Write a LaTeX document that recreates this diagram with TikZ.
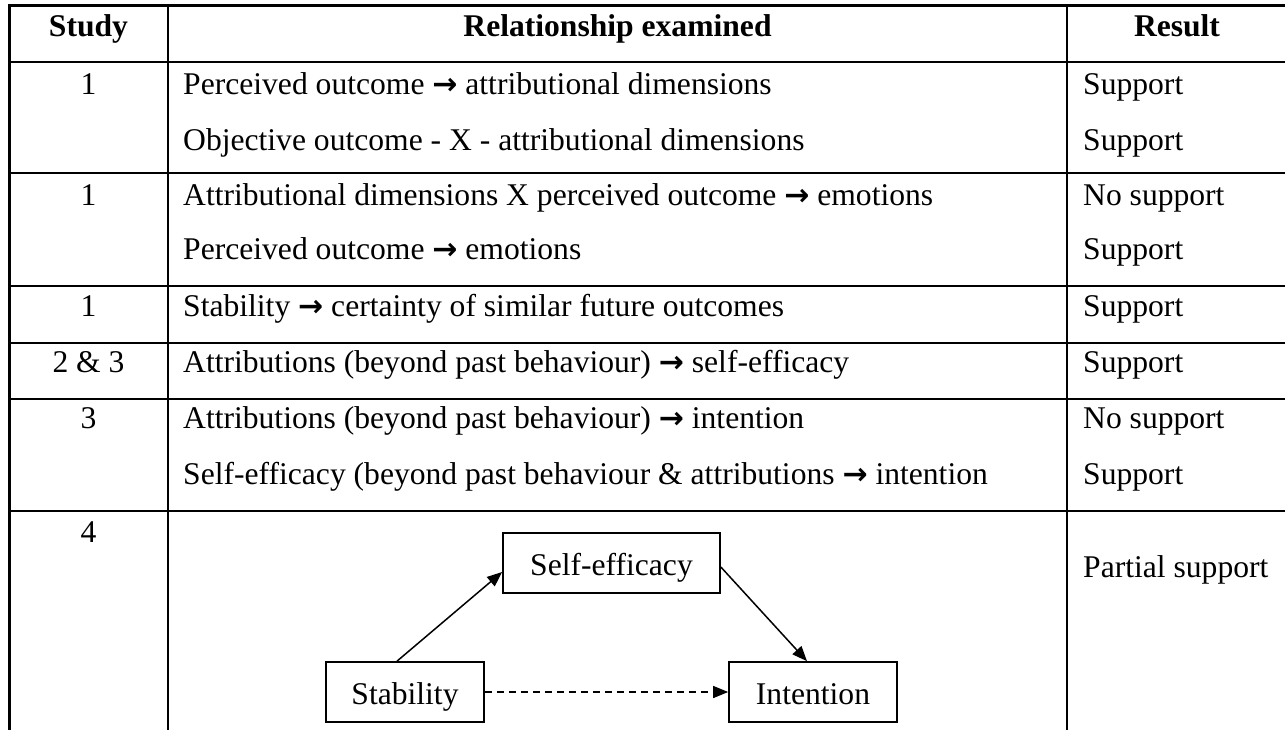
\documentclass[tikz,border=0pt]{standalone}
\usepackage{fontspec}
\setmainfont{Liberation Serif}
\newfontfamily\arrowfont{DejaVu Sans}
\usetikzlibrary{arrows.meta}
\newcommand{\rarr}{{\arrowfont\bfseries\fontsize{30}{32}\selectfont →}}
\begin{document}
\begin{tikzpicture}[x=1pt, y=-1pt,
  font=\fontsize{31.6}{37}\selectfont,
  txt/.style={inner sep=0pt, anchor=base west},
  ctr/.style={inner sep=0pt, anchor=base},
  hdr/.style={inner sep=0pt, anchor=base, font=\fontsize{31.6}{37}\selectfont\bfseries},
  tline/.style={line width=2.6pt},
  box/.style={draw, line width=1.7pt, inner sep=0pt, minimum height=60pt, text height=31pt, text depth=7pt},
  arr/.style={line width=1.5pt, -{Triangle[length=15pt, width=12pt]}},
  darr/.style={arr, dash pattern=on 7pt off 5pt}
]
\useasboundingbox (0,0) rectangle (1285,729);
% table rules
\foreach \yy in {5.7,62,173,286,343,399,511}
  \draw[tline] (9.5,\yy) -- (1290,\yy);
\foreach \xx in {9.5,168,1067}
  \draw[tline] (\xx,4.4) -- (\xx,735);
% header
\node[hdr] (hstudy) at (88.5,36) {Study};
\node[hdr] (hrel) at (617.5,36) {Relationship examined};
\node[hdr] (hres) at (1177,36) {Result};
% row 1
\node[ctr] (s1) at (88.5,94) {1};
\node[txt] (r1a) at (183,94) {Perceived outcome \rarr\ attributional dimensions};
\node[txt] (r1b) at (183,150) {Objective outcome - X - attributional dimensions};
\node[txt] (q1a) at (1083,94) {Support};
\node[txt] (q1b) at (1083,150) {Support};
% row 2
\node[ctr] (s2) at (88.5,205) {1};
\node[txt] (r2a) at (183,205) {Attributional dimensions X perceived outcome \rarr\ emotions};
\node[txt] (r2b) at (183,259) {Perceived outcome \rarr\ emotions};
\node[txt] (q2a) at (1083,205) {No support};
\node[txt] (q2b) at (1083,259) {Support};
% row 3
\node[ctr] (s3) at (88.5,316) {1};
\node[txt] (r3) at (183,316) {Stability \rarr\ certainty of similar future outcomes};
\node[txt] (q3) at (1083,316) {Support};
% row 4
\node[ctr] (s4) at (88.5,372) {2 \& 3};
\node[txt] (r4) at (183,372) {Attributions (beyond past behaviour) \rarr\ self-efficacy};
\node[txt] (q4) at (1083,372) {Support};
% row 5
\node[ctr] (s5) at (88.5,428) {3};
\node[txt] (r5a) at (183,428) {Attributions (beyond past behaviour) \rarr\ intention};
\node[txt] (r5b) at (183,484) {Self-efficacy (beyond past behaviour \& attributions \rarr\ intention};
\node[txt] (q5a) at (1083,428) {No support};
\node[txt] (q5b) at (1083,484) {Support};
% row 6
\node[ctr] (s6) at (88.5,542) {4};
\node[txt] (q6) at (1083,577) {Partial support};
% diagram
\node[box, minimum width=217pt] (se) at (611.5,563) {Self-efficacy};
\node[box, minimum width=158pt] (st) at (405,692) {Stability};
\node[box, minimum width=168pt] (in) at (813,692) {Intention};
\draw[arr] ([xshift=-8pt]st.north) -- ([yshift=-9pt]se.west);
\draw[arr] ([yshift=-4pt]se.east) -- ([xshift=-6pt]in.north);
\draw[darr] (st.east) -- (in.west);
\end{tikzpicture}
\end{document}
